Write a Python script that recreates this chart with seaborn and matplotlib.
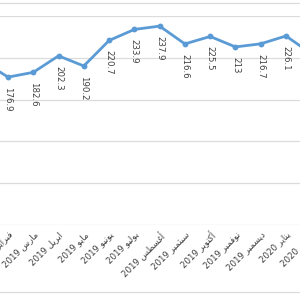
import matplotlib
matplotlib.use("Agg")
import matplotlib.pyplot as plt
import seaborn as sns
import pandas as pd
from matplotlib.lines import Line2D

# data (first / last point only partly visible)
months = ["يناير", "فبراير", "مارس", "ابريل", "مايو", "يونيو", "يوليو",
          "أغسطس", "سبتمبر", "أكتوبر", "نوفمبر", "ديسمبر", "يناير", "فبراير"]
years = [2019] * 12 + [2020] * 2
values = [196, 176.9, 182.6, 202.3, 190.2, 220.7, 233.9, 237.9,
          216.6, 225.5, 213, 216.7, 226.1, 205]

# arabic presentation forms: isolated, final, initial, medial
FORMS = {
    'ا': ('\uFE8D', '\uFE8E', None, None),
    'أ': ('\uFE83', '\uFE84', None, None),
    'ب': ('\uFE8F', '\uFE90', '\uFE91', '\uFE92'),
    'ت': ('\uFE95', '\uFE96', '\uFE97', '\uFE98'),
    'د': ('\uFEA9', '\uFEAA', None, None),
    'ر': ('\uFEAD', '\uFEAE', None, None),
    'س': ('\uFEB1', '\uFEB2', '\uFEB3', '\uFEB4'),
    'ط': ('\uFEC1', '\uFEC2', '\uFEC3', '\uFEC4'),
    'غ': ('\uFECD', '\uFECE', '\uFECF', '\uFED0'),
    'ف': ('\uFED1', '\uFED2', '\uFED3', '\uFED4'),
    'ك': ('\uFED9', '\uFEDA', '\uFEDB', '\uFEDC'),
    'ل': ('\uFEDD', '\uFEDE', '\uFEDF', '\uFEE0'),
    'م': ('\uFEE1', '\uFEE2', '\uFEE3', '\uFEE4'),
    'ن': ('\uFEE5', '\uFEE6', '\uFEE7', '\uFEE8'),
    'و': ('\uFEED', '\uFEEE', None, None),
    'ي': ('\uFEF1', '\uFEF2', '\uFEF3', '\uFEF4'),
}


def shape(word):
    out = []
    for i, ch in enumerate(word):
        iso, fin, ini, med = FORMS[ch]
        prev_joins = i > 0 and FORMS[word[i - 1]][2] is not None
        joins_next = ini is not None and i < len(word) - 1
        if prev_joins and joins_next:
            out.append(med)
        elif prev_joins:
            out.append(fin)
        elif joins_next:
            out.append(ini)
        else:
            out.append(iso)
    return ''.join(reversed(out))


labels = [f"{y} {shape(m)}" for m, y in zip(months, years)]
df = pd.DataFrame({"month": labels, "value": values})

sns.set_style("white")
plt.rcParams['font.family'] = ['DejaVu Sans']

fig = plt.figure(figsize=(3, 3), dpi=100)
# the visible window is a crop of a wider chart, so the axes run past the figure edges
ax = fig.add_axes([-0.0997, 0.25, 1.1793, 0.6967])
sns.lineplot(data=df, x="month", y="value", sort=False, ax=ax,
             color="#5b9bd5", linewidth=2.0, marker="o", markersize=4.2,
             markeredgewidth=0)

# value labels only for the points inside the visible window
for i, v in enumerate(values[1:-1], start=1):
    ax.annotate(f"{v:g}", (i, v), xytext=(0, -7), textcoords="offset points",
                rotation=270, ha="center", va="top", fontsize=6.2, color="#404040")

ax.set_xlim(-0.5, 13.5)
ax.set_ylim(0, 250)
ax.set_yticks([0, 50, 100, 150, 200, 250])
ax.yaxis.grid(True, color="#dcdcdc", linewidth=0.9)
ax.set_axisbelow(True)
ax.tick_params(length=0, labelsize=6.2, labelcolor="#404040")
ax.set_yticklabels([])
plt.setp(ax.get_xticklabels(), rotation=45, ha="right", rotation_mode="anchor")
ax.set_xlabel("")
ax.set_ylabel("")
sns.despine(ax=ax, left=True, bottom=True, top=True, right=True)

for yf in (0.99, 0.0267):
    fig.add_artist(Line2D([0, 1], [yf, yf], color="#dcdcdc", linewidth=0.9))

fig.savefig("out.png", dpi=100)
